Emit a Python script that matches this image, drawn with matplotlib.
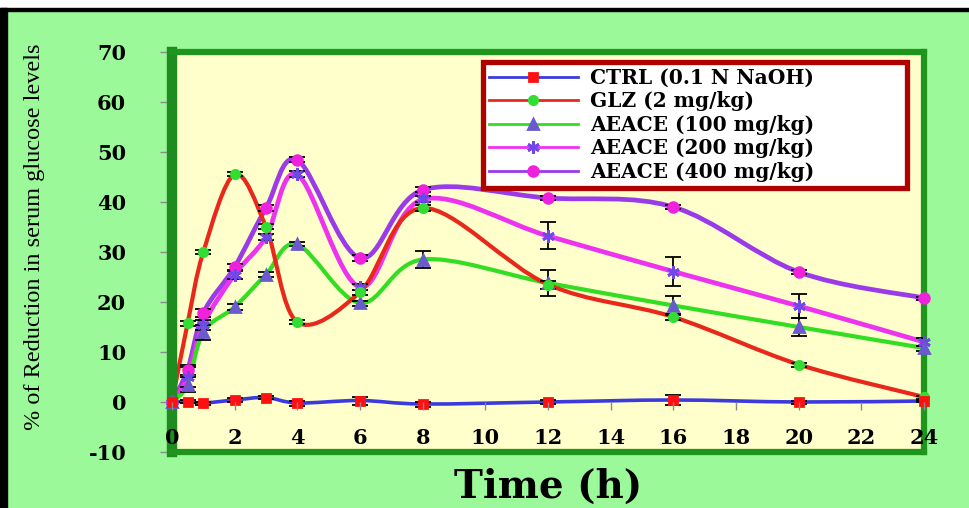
import numpy as np
import matplotlib
matplotlib.use("Agg")
import matplotlib.pyplot as plt
from matplotlib.path import Path
from matplotlib.patches import PathPatch, Rectangle
from matplotlib.lines import Line2D

plt.rcParams["axes.unicode_minus"] = False

# Sampling times (h)
time_h = [0, 0.5, 1, 2, 3, 4, 6, 8, 12, 16, 20, 24]

# % reduction in serum glucose, mean and error per group
ctrl = [0, 0.1, -0.2, 0.4, 0.9, -0.2, 0.3, -0.4, 0.0, 0.4, 0.0, 0.2]
ctrl_err = [0, 0.3, 0.3, 0.4, 0.3, 0.5, 0.8, 0.5, 0.4, 1.0, 0.3, 0.2]

glz = [0, 15.8, 30.0, 45.5, 35.0, 16.0, 22.0, 38.8, 23.5, 17.0, 7.5, 1.0]
glz_err = [0, 0.5, 0.4, 0.4, 0.5, 0.4, 0.5, 0.6, 0.8, 0.6, 0.4, 0.3]

aeace100 = [0, 3.5, 14.0, 19.0, 25.5, 31.5, 19.8, 28.5, 23.8, 19.3, 15.0, 10.8]
aeace100_err = [0, 1.5, 1.5, 0.6, 0.5, 0.4, 0.5, 1.7, 2.6, 1.9, 1.8, 0.5]

aeace200 = [0, 5.0, 15.5, 25.5, 33.0, 45.5, 23.0, 40.5, 33.2, 26.1, 19.2, 12.0]
aeace200_err = [0, 2.0, 1.0, 0.8, 0.6, 0.6, 0.6, 0.6, 2.7, 2.9, 2.4, 0.8]

aeace400 = [0, 6.5, 17.8, 27.0, 38.8, 48.4, 28.8, 42.4, 40.8, 39.0, 26.0, 20.8]
aeace400_err = [0, 1.0, 0.8, 0.6, 0.6, 0.5, 0.5, 0.5, 0.4, 0.4, 0.4, 0.3]

labels = ["CTRL (0.1 N NaOH)", "GLZ (2 mg/kg)", "AEACE (100 mg/kg)",
          "AEACE (200 mg/kg)", "AEACE (400 mg/kg)"]
x_ticks = list(range(0, 25, 2))
y_ticks = list(range(-10, 71, 10))

BOLD = dict(family="DejaVu Serif", weight="bold")


def smooth_path(x, y):
    """Catmull-Rom curve through the points, as cubic Bezier segments."""
    pts = np.column_stack([x, y]).astype(float)
    padded = np.vstack([pts[0], pts, pts[-1]])
    verts, codes = [pts[0]], [Path.MOVETO]
    for i in range(1, len(padded) - 2):
        p0, p1, p2, p3 = padded[i - 1], padded[i], padded[i + 1], padded[i + 2]
        verts += [p1 + (p2 - p0) / 6, p2 - (p3 - p1) / 6, p2]
        codes += [Path.CURVE4] * 3
    return Path(verts, codes)


series = [
    # values, errors, line colour, line width, marker, marker colour, marker size
    (aeace400, aeace400_err, "#9A3AE8", 3.4, "o", "#EE22DD", 7),
    (aeace200, aeace200_err, "#EE33EE", 3.4, (6, 2, 0), "#7048E8", 9),
    (aeace100, aeace100_err, "#33DD22", 3.0, "^", "#6A5ACD", 7),
    (glz, glz_err, "#E8281A", 3.0, "o", "#33DD33", 6),
    (ctrl, ctrl_err, "#3A3ADD", 2.6, "s", "#FF1010", 6),
]

fig = plt.figure(figsize=(9.7, 5.08), dpi=100, facecolor="#9CF99A")
ax = fig.add_axes([172 / 970, 1 - 452 / 508, 752 / 970, 400 / 508])
ax.set_facecolor("#FFFFCC")

for vals, err, lc, lw, mk, mc, ms in series:
    ax.add_patch(PathPatch(smooth_path(time_h, vals), facecolor="none",
                           edgecolor=lc, lw=lw, capstyle="round",
                           joinstyle="round", zorder=2))
    ax.errorbar(time_h, vals, yerr=err, fmt="none", ecolor="black",
                elinewidth=1.3, capsize=6, capthick=1.3, zorder=3)
    ax.plot(time_h, vals, linestyle="none", marker=mk, ms=ms, mfc=mc,
            mec=mc, mew=2, zorder=4, clip_on=False)

ax.set_xlim(0, 24)
ax.set_ylim(-10, 70)

# green frame
for side in ["top", "right", "bottom"]:
    ax.spines[side].set_color("#1E961E")
    ax.spines[side].set_linewidth(4.5)
ax.spines["left"].set_color("#1E8C1E")
ax.spines["left"].set_linewidth(7.5)

ax.set_xticks([])
ax.set_yticks(y_ticks)
ax.tick_params(axis="y", direction="out", length=9, width=1,
               color="#8a8a8a", pad=24)
for lab in ax.get_yticklabels():
    lab.set(fontsize=15, **BOLD)

# x axis crossing at y = 0 (its line is covered by the CTRL curve)
sec = ax.secondary_xaxis(10 / 80)
sec.set_zorder(5)
sec.set_xticks(x_ticks)
sec.spines["bottom"].set_visible(False)
sec.tick_params(axis="x", direction="out", length=6, width=1,
                color="#8a8a8a", pad=13)
for lab in sec.get_xticklabels():
    lab.set(fontsize=15, **BOLD)

handles = [Line2D([], [], color=lc, lw=2, marker=mk, ms=ms, mfc=mc, mec=mc, mew=2)
           for _, _, lc, _, mk, mc, ms in series[::-1]]
leg = ax.legend(handles, labels, loc="upper left", mode="expand",
                bbox_to_anchor=(483 / 970, 1 - 67 / 508, 424 / 970, 0.01),
                bbox_transform=fig.transFigure, borderaxespad=0,
                fancybox=False, framealpha=1, edgecolor="#B00000",
                handlelength=4.4, handletextpad=0.6, borderpad=0.3,
                labelspacing=0.17, prop=dict(size=14.5, **BOLD))
leg.get_frame().set_linewidth(3.8)
leg.set_zorder(6)

fig.text(35 / 970, 1 - 237 / 508, "% of Reduction in serum glucose levels",
         rotation=90, ha="center", va="center", fontsize=17.5,
         family="Liberation Serif")
fig.text(548 / 970, 1 - 487 / 508, "Time (h)", ha="center", va="center",
         fontsize=28, **BOLD)

# page edge: white strip and black border
fig.add_artist(Rectangle((0, 1 - 8 / 508), 1, 8 / 508, color="white",
                         transform=fig.transFigure))
fig.add_artist(Rectangle((0, 1 - 11 / 508), 1, 3 / 508, color="black",
                         transform=fig.transFigure))
fig.add_artist(Rectangle((0, 0), 7 / 970, 1 - 8 / 508, color="black",
                         transform=fig.transFigure))

fig.savefig("out.png", dpi=100, facecolor=fig.get_facecolor())
